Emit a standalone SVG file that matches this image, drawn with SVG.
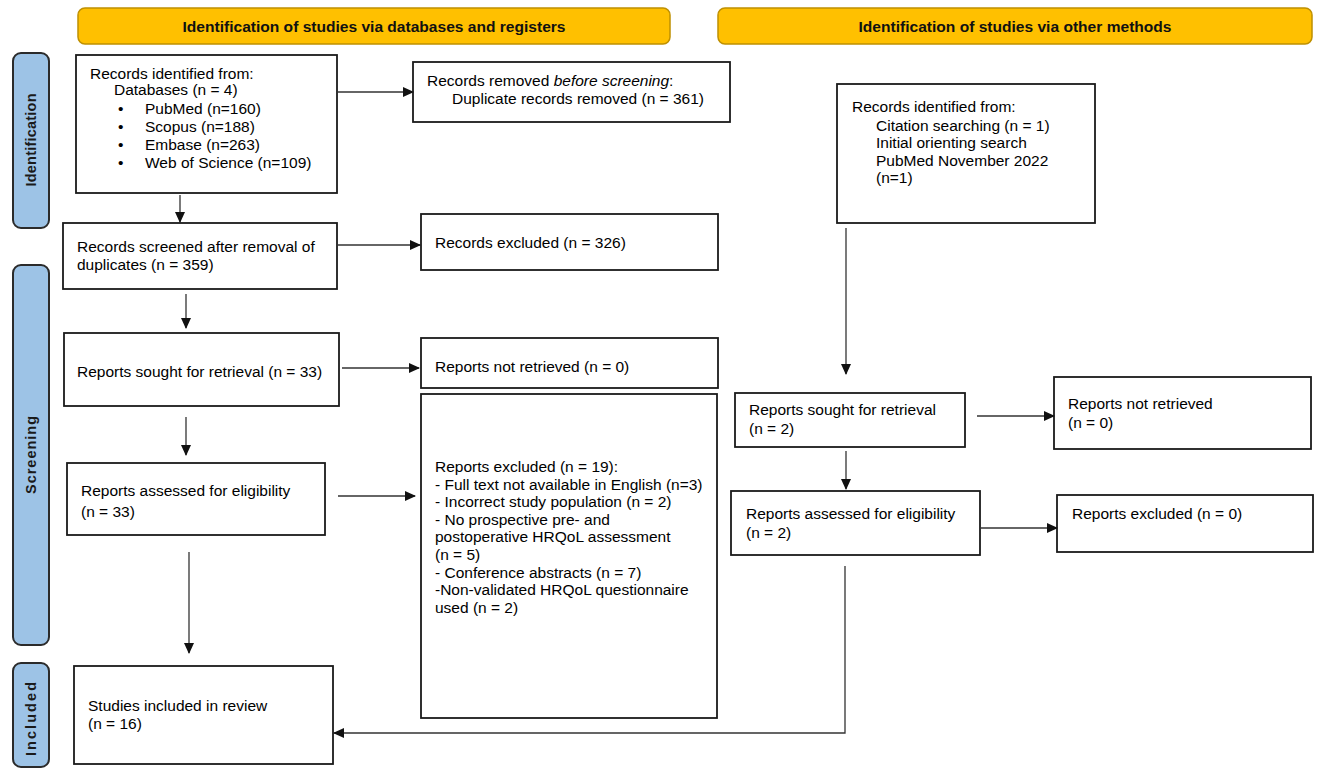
<svg xmlns="http://www.w3.org/2000/svg" width="1325" height="772" viewBox="0 0 1325 772">
<defs>
<style>
.hdr{fill:#FFC000;stroke:#BF9000;stroke-width:1.5}
.hdrt{font-family:"Liberation Sans",Arial,sans-serif;font-weight:bold;font-size:15px;fill:#111;text-anchor:middle}
.bar{fill:#9DC3E6;stroke:#2b2b2b;stroke-width:2}
.bart{font-family:"Liberation Sans",Arial,sans-serif;font-weight:bold;font-size:14.5px;fill:#1a1a1a;text-anchor:middle}
.box{fill:#fff;stroke:#1a1a1a;stroke-width:1.8}
.t{font-family:"Liberation Sans",Arial,sans-serif;font-size:15.5px;fill:#000}
.c{fill:none;stroke:#333;stroke-width:1.3}
</style>
<marker id="ah" markerUnits="userSpaceOnUse" markerWidth="11" markerHeight="10" refX="10" refY="5" orient="auto">
<path d="M0,0 L11,5 L0,10 z" fill="#111"/>
</marker>
</defs>
<rect width="1325" height="772" fill="#fff"/>

<g id="header-databases">
<rect class="hdr" x="78" y="8" width="592" height="36" rx="7"/>
<text class="hdrt" x="374" y="32" textLength="383" lengthAdjust="spacingAndGlyphs">Identification of studies via databases and registers</text>
</g>
<g id="header-other">
<rect class="hdr" x="718" y="8" width="594" height="36" rx="7"/>
<text class="hdrt" x="1015" y="32" textLength="313" lengthAdjust="spacingAndGlyphs">Identification of studies via other methods</text>
</g>

<g id="bar-identification">
<rect class="bar" x="13" y="53" width="36" height="175" rx="8"/>
<text class="bart" transform="rotate(-90 36 140)" x="36" y="140" textLength="93" lengthAdjust="spacing">Identification</text>
</g>
<g id="bar-screening">
<rect class="bar" x="13" y="265" width="36" height="380" rx="8"/>
<text class="bart" transform="rotate(-90 36 455)" x="36" y="455" textLength="78" lengthAdjust="spacing">Screening</text>
</g>
<g id="bar-included">
<rect class="bar" x="13" y="663" width="36" height="104" rx="8"/>
<text class="bart" transform="rotate(-90 36 719)" x="36" y="719" textLength="74" lengthAdjust="spacing">Included</text>
</g>

<g id="records-identified">
<rect class="box" x="76" y="55" width="261" height="138"/>
<text class="t" x="90" y="79">Records identified from:</text>
<text class="t" x="114" y="95">Databases (n = 4)</text>
<text class="t" x="118" y="114">•</text><text class="t" x="145" y="114">PubMed (n=160)</text>
<text class="t" x="118" y="132">•</text><text class="t" x="145" y="132">Scopus (n=188)</text>
<text class="t" x="118" y="150">•</text><text class="t" x="145" y="150">Embase (n=263)</text>
<text class="t" x="118" y="168">•</text><text class="t" x="145" y="168">Web of Science (n=109)</text>
</g>

<g id="records-removed">
<rect class="box" x="413" y="62" width="317" height="60"/>
<text class="t" x="427" y="86">Records removed <tspan font-style="italic">before screening</tspan>:</text>
<text class="t" x="452" y="104">Duplicate records removed (n = 361)</text>
</g>

<g id="records-screened">
<rect class="box" x="63" y="223" width="274" height="66"/>
<text class="t" x="77" y="252">Records screened after removal of</text>
<text class="t" x="77" y="270">duplicates (n = 359)</text>
</g>

<g id="records-excluded">
<rect class="box" x="421" y="214" width="297" height="56"/>
<text class="t" x="435" y="248">Records excluded (n = 326)</text>
</g>

<g id="reports-sought-db">
<rect class="box" x="64" y="333" width="275" height="73"/>
<text class="t" x="77" y="377">Reports sought for retrieval (n = 33)</text>
</g>

<g id="reports-not-retrieved-db">
<rect class="box" x="421" y="338" width="297" height="50"/>
<text class="t" x="435" y="372">Reports not retrieved (n = 0)</text>
</g>

<g id="reports-assessed-db">
<rect class="box" x="67" y="463" width="258" height="72"/>
<text class="t" x="81" y="496">Reports assessed for eligibility</text>
<text class="t" x="81" y="517">(n = 33)</text>
</g>

<g id="reports-excluded-db">
<rect class="box" x="421" y="394" width="296" height="324"/>
<text class="t" x="435" y="472">Reports excluded (n = 19):</text>
<text class="t" x="435" y="490">- Full text not available in English (n=3)</text>
<text class="t" x="435" y="507">- Incorrect study population (n = 2)</text>
<text class="t" x="435" y="525">- No prospective pre- and</text>
<text class="t" x="435" y="542">postoperative HRQoL assessment</text>
<text class="t" x="435" y="560">(n = 5)</text>
<text class="t" x="435" y="578">- Conference abstracts (n = 7)</text>
<text class="t" x="435" y="595">-Non-validated HRQoL questionnaire</text>
<text class="t" x="435" y="613">used (n = 2)</text>
</g>

<g id="records-identified-other">
<rect class="box" x="837" y="84" width="258" height="139"/>
<text class="t" x="852" y="112">Records identified from:</text>
<text class="t" x="876" y="131">Citation searching (n = 1)</text>
<text class="t" x="876" y="148">Initial orienting search</text>
<text class="t" x="876" y="166">PubMed November 2022</text>
<text class="t" x="876" y="183">(n=1)</text>
</g>

<g id="reports-sought-other">
<rect class="box" x="735" y="393" width="230" height="54"/>
<text class="t" x="749" y="415">Reports sought for retrieval</text>
<text class="t" x="749" y="434">(n = 2)</text>
</g>

<g id="reports-not-retrieved-other">
<rect class="box" x="1054" y="377" width="257" height="72"/>
<text class="t" x="1068" y="409">Reports not retrieved</text>
<text class="t" x="1068" y="428">(n = 0)</text>
</g>

<g id="reports-assessed-other">
<rect class="box" x="731" y="491" width="249" height="64"/>
<text class="t" x="746" y="519">Reports assessed for eligibility</text>
<text class="t" x="746" y="538">(n = 2)</text>
</g>

<g id="reports-excluded-other">
<rect class="box" x="1057" y="495" width="256" height="57"/>
<text class="t" x="1072" y="519">Reports excluded (n = 0)</text>
</g>

<g id="studies-included">
<rect class="box" x="74" y="666" width="259" height="98"/>
<text class="t" x="88" y="711">Studies included in review</text>
<text class="t" x="88" y="729">(n = 16)</text>
</g>

<g id="connectors">
<line class="c" x1="338" y1="92" x2="413" y2="92" marker-end="url(#ah)"/>
<line class="c" x1="180" y1="195" x2="180" y2="222" marker-end="url(#ah)"/>
<line class="c" x1="338" y1="245" x2="420" y2="245" marker-end="url(#ah)"/>
<line class="c" x1="186" y1="294" x2="186" y2="328" marker-end="url(#ah)"/>
<line class="c" x1="342" y1="368" x2="419" y2="368" marker-end="url(#ah)"/>
<line class="c" x1="186" y1="417" x2="186" y2="455" marker-end="url(#ah)"/>
<line class="c" x1="338" y1="496" x2="415" y2="496" marker-end="url(#ah)"/>
<line class="c" x1="189" y1="552" x2="189" y2="653" marker-end="url(#ah)"/>
<line class="c" x1="846" y1="228" x2="846" y2="374" marker-end="url(#ah)"/>
<line class="c" x1="977" y1="416" x2="1054" y2="416" marker-end="url(#ah)"/>
<line class="c" x1="846" y1="451" x2="846" y2="489" marker-end="url(#ah)"/>
<line class="c" x1="980" y1="528" x2="1057" y2="528" marker-end="url(#ah)"/>
<polyline class="c" points="845,566 845,733 334,733" marker-end="url(#ah)"/>
</g>
</svg>
